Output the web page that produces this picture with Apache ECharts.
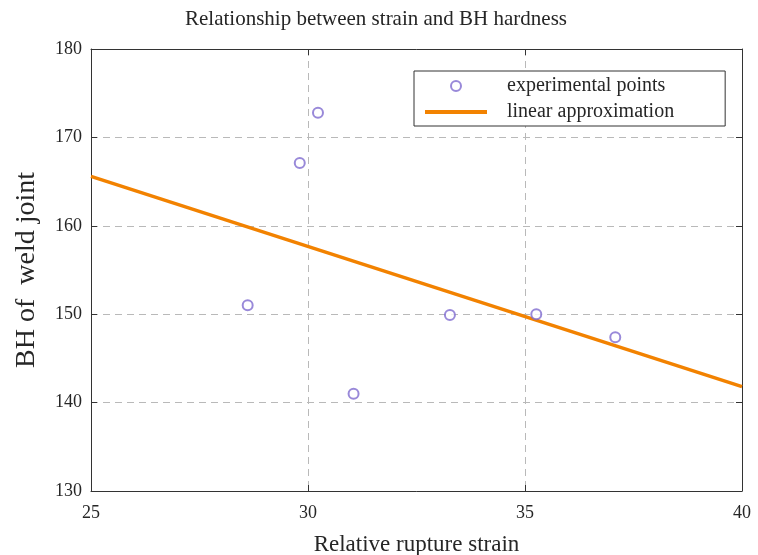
<!DOCTYPE html>
<html>
<head>
<meta charset="utf-8">
<script src="https://cdn.jsdelivr.net/npm/echarts@6/dist/echarts.min.js"></script>
<style>
  html, body { margin: 0; padding: 0; background: #fff; }
  #main { width: 758px; height: 555px; }
</style>
</head>
<body>
<div id="main"></div>
<script>
// measured points (relative rupture strain, BH hardness)
const strain = [28.61, 29.81, 30.23, 31.05, 33.27, 35.26, 37.08];
const hardness = [151.0, 167.1, 172.8, 141.0, 149.9, 150.0, 147.4];

// linear fit, end points
const fitX = [25, 40];
const fitY = [165.6, 141.8];

const xTicks = [25, 30, 35, 40];
const yTicks = [130, 140, 150, 160, 170, 180];

const font = "'Liberation Serif', 'Times New Roman', serif";
const dark = '#262626';

const chart = echarts.init(document.getElementById('main'));

const gridLine = { show: true, lineStyle: { color: '#b9b9b9', type: [7, 5], width: 1 } };

chart.setOption({
    backgroundColor: '#fff',
    animation: false,
    title: {
        text: 'Relationship between strain and BH hardness',
        left: 180,
        top: 4,
        textStyle: { fontFamily: font, fontSize: 21, fontWeight: 'normal', color: dark }
    },
    grid: { left: 91, right: 16, top: 49, bottom: 64, outerBoundsMode: 'none' },
    legend: {
        orient: 'vertical',
        left: 414,
        top: 71,
        padding: [5, 51, 4, 11],
        itemWidth: 62,
        itemHeight: 10,
        itemGap: 6,
        borderColor: '#333',
        borderWidth: 1,
        backgroundColor: '#fff',
        textStyle: { fontFamily: font, fontSize: 20, color: dark, padding: [0, 0, 0, 15], lineHeight: 18 },
        data: [
            { name: 'experimental points', icon: 'emptyCircle' },
            { name: 'linear approximation', icon: 'path://M0,0H62V4H0Z', itemStyle: { color: '#f28200' } }
        ]
    },
    xAxis: [{
        type: 'value', min: 25, max: 40, interval: 5,
        name: 'Relative rupture strain', nameLocation: 'middle', nameGap: 42,
        nameTextStyle: { fontFamily: font, fontSize: 23, color: dark },
        axisLine: { lineStyle: { color: '#333' } },
        axisTick: { inside: true, length: 6, lineStyle: { color: '#333' } },
        axisLabel: { fontFamily: font, fontSize: 18, color: dark, margin: 13,
            formatter: v => xTicks.includes(v) ? String(v) : '' },
        splitLine: gridLine
    }, {
        type: 'value', position: 'top', min: 25, max: 40, interval: 5,
        axisLine: { show: true, lineStyle: { color: '#333' } },
        axisTick: { show: true, inside: true, length: 6, lineStyle: { color: '#333' } },
        axisLabel: { show: false },
        splitLine: { show: false }
    }],
    yAxis: [{
        type: 'value', min: 130, max: 180, interval: 10,
        name: 'BH of  weld joint', nameLocation: 'middle', nameGap: 50,
        nameTextStyle: { fontFamily: font, fontSize: 28, color: dark },
        axisLine: { show: true, lineStyle: { color: '#333' } },
        axisTick: { show: true, inside: true, length: 6, lineStyle: { color: '#333' } },
        axisLabel: { fontFamily: font, fontSize: 18, color: dark, margin: 9,
            formatter: v => yTicks.includes(v) ? String(v) : '' },
        splitLine: gridLine
    }, {
        type: 'value', position: 'right', min: 130, max: 180, interval: 10,
        axisLine: { show: true, lineStyle: { color: '#333' } },
        axisTick: { show: true, inside: true, length: 6, lineStyle: { color: '#333' } },
        axisLabel: { show: false },
        splitLine: { show: false }
    }],
    series: [{
        name: 'experimental points',
        type: 'scatter',
        symbol: 'emptyCircle',
        symbolSize: 10,
        itemStyle: { color: '#7f6cd0', borderColor: '#7f6cd0', borderWidth: 1.3 },
        data: strain.map((x, i) => [x, hardness[i]]),
        z: 3
    }, {
        name: 'linear approximation',
        type: 'line',
        symbol: 'none',
        lineStyle: { color: '#f28200', width: 3.5 },
        itemStyle: { color: '#f28200' },
        data: fitX.map((x, i) => [x, fitY[i]]),
        z: 2
    }]
});
</script>
</body>
</html>
